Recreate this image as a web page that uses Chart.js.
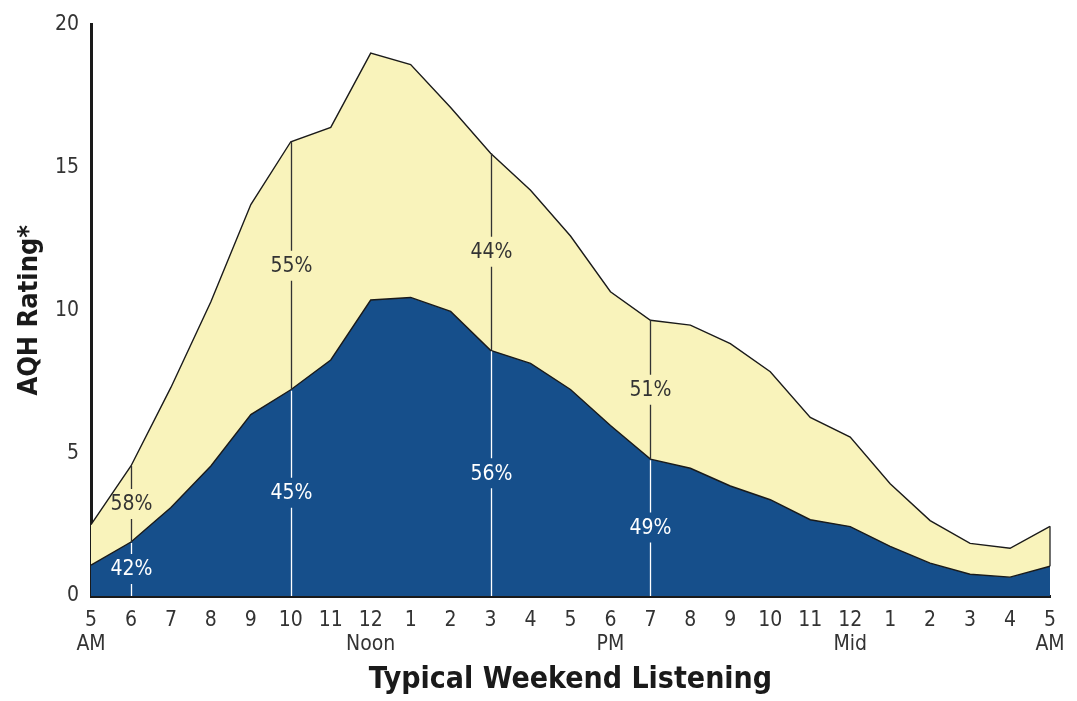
<!DOCTYPE html>
<html>
<head>
<meta charset="utf-8">
<script src="https://cdn.jsdelivr.net/npm/chart.js@4.4.1/dist/chart.umd.min.js"></script>
<style>
  html, body { margin: 0; padding: 0; background: #ffffff; }
  #wrap { width: 1077px; height: 701px; position: relative; }
</style>
</head>
<body>
<div id="wrap"><canvas id="c" width="1077" height="701"></canvas></div>
<script>
// ---- Data ----
const hours = ['5','6','7','8','9','10','11','12','1','2','3','4','5','6','7','8','9','10','11','12','1','2','3','4','5'];
const subLabels = ['AM','','','','','','','Noon','','','','','','PM','','','','','','Mid','','','','','AM'];
const totalRating = [2.5,4.55,7.3,10.3,13.7,15.9,16.4,19.0,18.6,17.1,15.5,14.2,12.6,10.65,9.65,9.48,8.83,7.85,6.25,5.56,3.93,2.64,1.84,1.67,2.44];
const lowerRating = [1.08,1.89,3.1,4.55,6.35,7.22,8.26,10.36,10.45,9.96,8.6,8.14,7.23,5.97,4.79,4.47,3.85,3.37,2.67,2.43,1.74,1.15,0.76,0.66,1.04];
const markerIndex = [1, 5, 10, 14];
const upperPct = ['58%','55%','44%','51%'];
const lowerPct = ['42%','45%','56%','49%'];
const yTicks = [0, 5, 10, 15, 20];

const FONT = "'DejaVu Sans Condensed', 'Liberation Sans Narrow', 'Liberation Sans', sans-serif";
const BLUE = '#164f8b';
const YELLOW = '#f9f3bb';
const labels = hours.map((h, i) => subLabels[i] ? [h, subLabels[i]] : h);

const markerPlugin = {
  id: 'markers',
  afterDatasetsDraw(chart) {
    const ctx = chart.ctx;
    const xs = chart.scales.x, ys = chart.scales.y;
    ctx.save();
    ctx.font = '21px ' + FONT;
    ctx.textAlign = 'center';
    ctx.textBaseline = 'middle';
    const gap = 15;
    markerIndex.forEach((idx, k) => {
      const x = Math.round(xs.getPixelForValue(idx)) + 0.5;
      const yT = ys.getPixelForValue(totalRating[idx]);
      const yM = ys.getPixelForValue(lowerRating[idx]);
      const y0 = ys.getPixelForValue(0);
      const lt = (yT + yM) / 2;
      const lb = (yM + y0) / 2;
      ctx.strokeStyle = '#333';
      ctx.lineWidth = 1.3;
      ctx.beginPath();
      ctx.moveTo(x, yT); ctx.lineTo(x, lt - gap);
      ctx.moveTo(x, lt + gap); ctx.lineTo(x, yM);
      ctx.stroke();
      ctx.fillStyle = '#333';
      ctx.fillText(upperPct[k], x, lt + 1);
      ctx.strokeStyle = '#ffffff';
      ctx.beginPath();
      ctx.moveTo(x, yM + 1); ctx.lineTo(x, lb - gap);
      ctx.moveTo(x, lb + gap); ctx.lineTo(x, y0);
      ctx.stroke();
      ctx.fillStyle = '#ffffff';
      ctx.fillText(lowerPct[k], x, lb + 1);
    });
    const last = totalRating.length - 1;
    const xr = xs.getPixelForValue(last);
    ctx.strokeStyle = '#222';
    ctx.lineWidth = 1.3;
    ctx.beginPath();
    ctx.moveTo(xr, ys.getPixelForValue(totalRating[last]));
    ctx.lineTo(xr, ys.getPixelForValue(lowerRating[last]));
    ctx.stroke();
    ctx.restore();
  }
};

new Chart(document.getElementById('c'), {
  type: 'line',
  data: {
    labels: labels,
    datasets: [
      {
        label: 'Lower',
        data: lowerRating,
        fill: 'origin',
        backgroundColor: BLUE,
        borderColor: '#1a1a1a',
        borderWidth: 1.4,
        pointRadius: 0,
        tension: 0,
        clip: false
      },
      {
        label: 'Total',
        data: totalRating,
        fill: 'origin',
        backgroundColor: YELLOW,
        borderColor: '#1a1a1a',
        borderWidth: 1.4,
        pointRadius: 0,
        tension: 0,
        clip: false
      }
    ]
  },
  options: {
    responsive: false,
    animation: false,
    events: [],
    layout: { padding: { left: 0, top: 20, right: 27, bottom: 0 } },
    plugins: { legend: { display: false }, tooltip: { enabled: false } },
    scales: {
      x: {
        type: 'category',
        offset: false,
        z: 1,
        grid: { display: false, drawTicks: false },
        border: { display: true, color: '#1a1a1a', width: 3 },
        ticks: {
          autoSkip: false,
          maxRotation: 0,
          padding: 12,
          color: '#333',
          font: { family: FONT, size: 21, lineHeight: 1.15 }
        },
        title: {
          display: true,
          text: 'Typical Weekend Listening',
          color: '#1a1a1a',
          font: { family: FONT, size: 30, weight: 'bold' },
          padding: { top: 0, bottom: 3 }
        },
        afterFit(scale) { scale.height = 105; }
      },
      y: {
        min: 0,
        max: 20,
        z: 1,
        afterBuildTicks(scale) { scale.ticks = yTicks.map(v => ({ value: v })); },
        grid: { display: false, drawTicks: false },
        border: { display: true, color: '#1a1a1a', width: 3 },
        ticks: {
          padding: 12,
          color: '#333',
          font: { family: FONT, size: 21 }
        },
        title: {
          display: true,
          text: 'AQH Rating*',
          color: '#1a1a1a',
          font: { family: FONT, size: 27, weight: 'bold' },
          padding: { top: 14, bottom: 0 }
        },
        afterFit(scale) { scale.width = 91; }
      }
    }
  },
  plugins: [markerPlugin]
});
</script>
</body>
</html>
